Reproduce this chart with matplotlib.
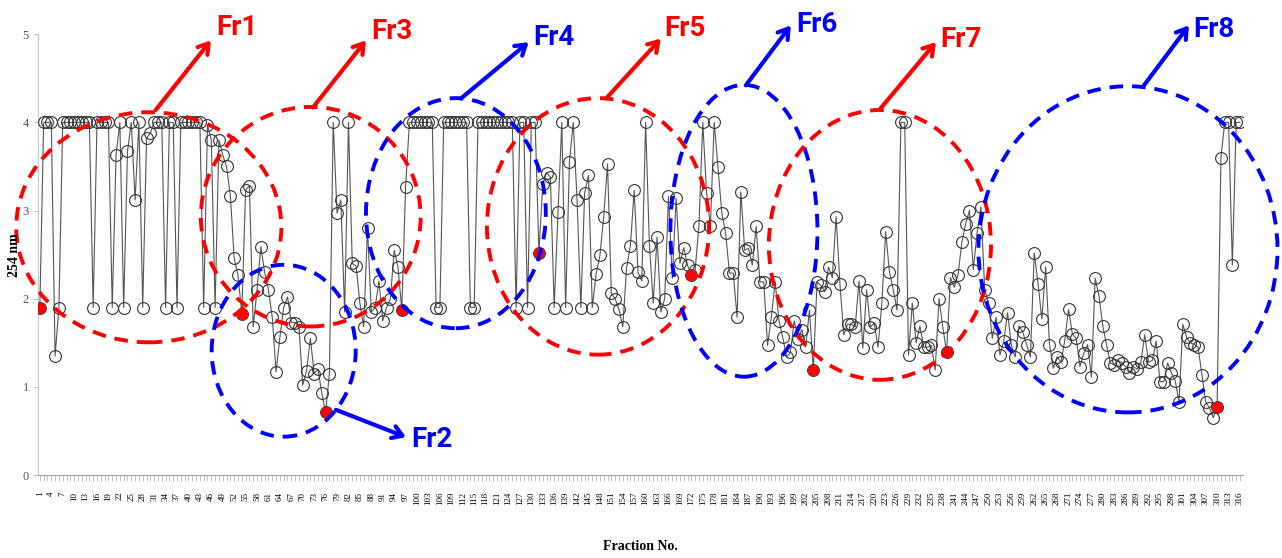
import matplotlib.pyplot as plt
from matplotlib.patches import Ellipse

# absorbance at 254 nm for fractions 1..316
fractions = list(range(1, 317))
a254 = [
    1.9, 4.0, 4.0, 4.0, 1.35, 1.9, 4.0, 4.0, 4.0, 4.0,
    4.0, 4.0, 4.0, 4.0, 1.9, 4.0, 4.0, 4.0, 4.0, 1.9,
    3.63, 4.0, 1.9, 3.67, 4.0, 3.12, 4.0, 1.9, 3.82, 3.88,
    4.0, 4.0, 4.0, 1.9, 4.0, 4.0, 1.9, 4.0, 4.0, 4.0,
    4.0, 4.0, 4.0, 1.9, 3.97, 3.8, 1.9, 3.8, 3.63, 3.5,
    3.17, 2.46, 2.27, 1.83, 3.23, 3.28, 1.68, 2.1, 2.59, 2.3,
    2.1, 1.79, 1.17, 1.56, 1.9, 2.02, 1.73, 1.73, 1.68, 1.02,
    1.18, 1.55, 1.15, 1.2, 0.93, 0.71, 1.15, 4.0, 2.97, 3.12,
    1.85, 4.0, 2.4, 2.37, 1.95, 1.68, 2.8, 1.85, 1.9, 2.2,
    1.75, 1.9, 2.0, 2.55, 2.36, 1.87, 3.27, 4.0, 4.0, 4.0,
    4.0, 4.0, 4.0, 4.0, 1.9, 1.9, 4.0, 4.0, 4.0, 4.0,
    4.0, 4.0, 4.0, 1.9, 1.9, 4.0, 4.0, 4.0, 4.0, 4.0,
    4.0, 4.0, 4.0, 4.0, 4.0, 1.9, 4.0, 4.0, 1.9, 4.0,
    4.0, 2.52, 3.3, 3.43, 3.38, 1.9, 2.98, 4.0, 1.9, 3.55,
    4.0, 3.12, 1.9, 3.2, 3.4, 1.9, 2.28, 2.49, 2.93, 3.53,
    2.06, 2.0, 1.88, 1.68, 2.35, 2.6, 3.23, 2.3,
    2.2, 4.0, 2.6, 1.95, 2.7, 1.85, 2.0, 3.16, 2.23, 3.14,
    2.4, 2.58, 2.38, 2.27, 2.33, 2.83, 4.0, 3.2, 2.82, 4.0,
    3.49, 2.97, 2.74, 2.29, 2.29, 1.79, 3.21, 2.55, 2.57, 2.38,
    2.82, 2.19, 2.19, 1.47, 1.79, 2.19, 1.75, 1.56, 1.34, 1.39,
    1.75, 1.54, 1.65, 1.45, 1.87, 1.19, 2.19, 2.15, 2.08, 2.36,
    2.24, 2.93, 2.17, 1.59, 1.71, 1.71, 1.68, 2.2, 1.44, 2.1,
    1.68, 1.72, 1.45, 1.95, 2.76, 2.3, 2.1, 1.87, 4.0, 4.0,
    1.36, 1.95, 1.5, 1.69, 1.45, 1.45, 1.47, 1.19, 2.0, 1.68,
    1.39, 2.24, 2.13, 2.27, 2.64, 2.85, 3.0,
    2.33, 2.75, 3.04, 2.1, 1.95, 1.55, 1.79, 1.36, 1.52, 1.84,
    1.47, 1.34, 1.69, 1.62, 1.48, 1.34, 2.52, 2.17, 1.77, 2.36,
    1.48, 1.21, 1.34, 1.28, 1.52, 1.88, 1.6, 1.55, 1.23, 1.38,
    1.48, 1.11, 2.23, 2.03, 1.69, 1.47, 1.27, 1.25, 1.3, 1.27,
    1.23, 1.16, 1.23, 1.2, 1.28, 1.59, 1.28, 1.3, 1.52, 1.06,
    1.06, 1.27, 1.16, 1.07, 0.83, 1.71, 1.56, 1.5, 1.48, 1.45,
    1.14, 0.83, 0.76, 0.65, 0.77, 3.6, 4.0, 4.0, 2.38, 4.0, 4.0,
]
# fractions marked in red (cut points)
marked = [1, 54, 76, 96, 132, 172, 204, 239, 310]
tick_fracs = list(range(1, 317, 3))

# pooled fractions: label, colour, ellipse (centre x, centre y, width, height),
# arrow tail, arrow head, label baseline position
RED, BLUE = '#ff0000', '#0000ff'
groups = [
    ('Fr1', RED, (29.6, 2.81, 69.6, 2.61), (31.4, 4.14), (45.9, 4.93), (47.2, 4.99)),
    ('Fr2', BLUE, (65.0, 1.41, 37.8, 1.95), (78.7, 0.74), (97.1, 0.43), (98.4, 0.32)),
    ('Fr3', RED, (72.1, 2.93, 57.7, 2.49), (72.7, 4.17), (86.6, 4.93), (87.9, 4.95)),
    ('Fr4', BLUE, (110.2, 2.97, 47.2, 2.61), (111.5, 4.27), (129.3, 4.91), (130.6, 4.88)),
    ('Fr5', RED, (147.5, 2.82, 58.3, 2.91), (149.6, 4.27), (164.0, 4.95), (165.0, 4.98)),
    ('Fr6', BLUE, (185.8, 2.77, 38.6, 3.31), (186.3, 4.42), (198.1, 5.1), (199.6, 5.02)),
    ('Fr7', RED, (221.5, 2.61, 58.3, 3.06), (221.7, 4.16), (236.2, 4.91), (237.2, 4.86)),
    ('Fr8', BLUE, (286.6, 2.56, 78.5, 3.7), (290.8, 4.42), (302.6, 5.1), (303.8, 4.97)),
]

fig = plt.figure(figsize=(12.82, 5.58), dpi=100)
ax = fig.add_axes([0.0296, 0.1487, 0.94, 0.790])

ax.plot(fractions, a254, color='#555555', lw=0.8, marker='o', ms=8.5,
        mfc='none', mec='#333333', mew=0.8, zorder=3)
ax.plot(marked, [a254[f - 1] for f in marked], 'o', color='red', ms=7, zorder=4)

ax.set_xlim(0.5, 316.8)
ax.set_ylim(0, 5)
ax.set_xticks(tick_fracs)
ax.set_xticklabels([str(t) for t in tick_fracs], rotation=90, fontsize=6.5,
                   family='Liberation Serif')
ax.set_xticks(fractions, minor=True)
ax.tick_params(axis='x', which='both', length=4, color='#aaaaaa', width=0.5)
ax.tick_params(axis='x', which='major', pad=8)
ax.set_yticks(range(6))
ax.set_yticklabels([str(v) for v in range(6)], fontsize=9, family='Liberation Serif',
                   color='#555555')
ax.tick_params(axis='y', length=3, color='#bbbbbb', width=0.8)
for s in ['top', 'right']:
    ax.spines[s].set_visible(False)
ax.spines['left'].set_color('#c8c8c8')
ax.spines['bottom'].set_color('#a0a0a0')

fig.text(640 / 1282, 1 - 546 / 558, 'Fraction No.', ha='center', va='center',
         fontsize=10, fontweight='bold', family='Liberation Serif')
fig.text(14 / 1282, 1 - 255 / 558, '254 nm', ha='center', va='center', rotation=90,
         fontsize=10, fontweight='bold', family='Liberation Serif')

for label, c, (ex, ey, ew, eh), tail, head, lpos in groups:
    ax.add_patch(Ellipse((ex, ey), ew, eh, fill=False, ec=c, lw=2.8,
                         ls=(0, (3.5, 2.3)), clip_on=False, zorder=5))
    ax.annotate('', xy=head, xytext=tail, annotation_clip=False,
                arrowprops=dict(arrowstyle='->,head_length=0.7,head_width=0.45',
                                color=c, lw=3, shrinkA=0, shrinkB=0), zorder=6)
    ax.text(lpos[0], lpos[1], label, color=c, fontsize=20, fontweight='bold',
            family=['Roboto', 'DejaVu Sans'], ha='left', va='baseline',
            clip_on=False, zorder=6)

fig.savefig('out.png', dpi=100)
